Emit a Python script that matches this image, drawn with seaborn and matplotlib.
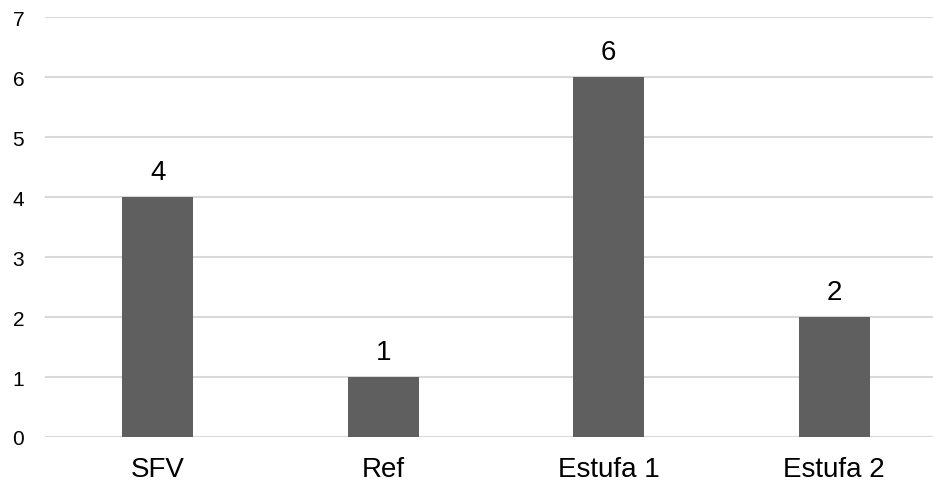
import matplotlib
matplotlib.use("Agg")
import matplotlib.pyplot as plt
import seaborn as sns
import pandas as pd

# valores
categorias = ["SFV", "Ref", "Estufa 1", "Estufa 2"]
valores = [4, 1, 6, 2]
yticks = [0, 1, 2, 3, 4, 5, 6, 7]

df = pd.DataFrame({"categoria": categorias, "valor": valores})

sns.set_style("white")
plt.rcParams["font.family"] = ["Liberation Sans", "DejaVu Sans"]

fig = plt.figure(figsize=(9.33, 4.89), dpi=100)
# the axes run a bit past the right edge, like the cropped original
ax = fig.add_axes([45 / 933, 51 / 489, 902 / 933, 420 / 489])

sns.barplot(data=df, x="categoria", y="valor", color="#5f5f5f",
            width=0.315, saturation=1, linewidth=0, ax=ax)

ax.set_ylim(0, 7)
ax.set_xlim(-0.5, 3.5)
ax.set_yticks(yticks)
ax.yaxis.grid(True, color="#d9d9d9", linewidth=1.5)
ax.set_axisbelow(True)
for s in ax.spines.values():
    s.set_visible(False)
ax.axhline(0, color="#d9d9d9", linewidth=1.5, zorder=0)

ax.set_xlabel("")
ax.set_ylabel("")
ax.tick_params(axis="y", length=0, pad=15, labelsize=15, labelcolor="#000000")
ax.tick_params(axis="x", length=0, pad=14, labelsize=20, labelcolor="#000000")

for i, v in enumerate(valores):
    ax.text(i, v + 0.3, str(v), ha="center", va="baseline", fontsize=20,
            color="#000000")

fig.savefig("out.png", dpi=100)
